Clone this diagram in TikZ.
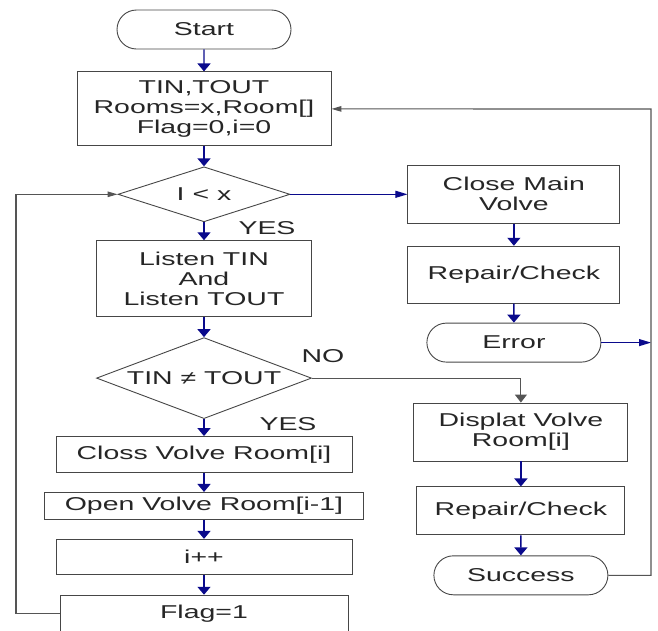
\documentclass[tikz,border=0pt]{standalone}
\usepackage{fontspec}
\newfontfamily\flowfont{Liberation Sans}[FakeStretch=1.53]
\usetikzlibrary{arrows.meta,positioning,shapes.geometric,shapes.misc}
\definecolor{flowblue}{RGB}{10,10,140}
\definecolor{flowgray}{RGB}{85,85,85}
\definecolor{boxgray}{RGB}{70,70,70}

\begin{document}
\begin{tikzpicture}[x=1pt, y=-1pt,
  font=\flowfont\fontsize{18.6}{20}\selectfont, node distance=19pt,
  box/.style={draw=boxgray, line width=0.9pt, align=center, inner sep=0pt,
              text=black!85},
  term/.style={box, rounded rectangle, minimum width=174pt, minimum height=39pt},
  dec/.style={box, diamond},
  varr/.style={-{Triangle[length=8pt,width=13pt]}, line width=1.4pt, flowblue},
  harr/.style={-{Triangle[length=12pt,width=7pt]}, line width=1pt, flowblue},
  garr/.style={-{Triangle[length=10pt,width=5.5pt]}, line width=1.1pt, flowgray},
  gvarr/.style={-{Triangle[length=8pt,width=12pt]}, line width=1.1pt, flowgray},
  lbl/.style={inner sep=0pt, text=black!85},
]
\useasboundingbox (0,0) rectangle (658,630);
% ---------------- main column -----------------
\node[term] (start) at (204,29.5) {Start};
\node[box, below=22pt of start, minimum width=254pt, minimum height=74pt] (init)
  {TIN,TOUT\\Rooms=x,Room[]\\Flag=0,i=0};
\node[dec, below=20pt of init, aspect=3.1, minimum width=172pt, minimum height=55pt] (cnd1)
  {I < x};
\node[box, below=18pt of cnd1, minimum width=215pt, minimum height=76pt] (listen)
  {Listen TIN\\And\\Listen TOUT};
\node[dec, below=20pt of listen, aspect=2.65, minimum width=215pt, minimum height=81pt] (cnd2)
  {TIN ≠ TOUT};
\node[box, below=17pt of cnd2, minimum width=296pt, minimum height=36pt] (closs)
  {Closs Volve Room[i]};
\node[box, below=of closs, minimum width=319pt, minimum height=27pt] (open)
  {Open Volve Room[i-1]};
\node[box, below=of open, minimum width=296pt, minimum height=35pt] (incr) {i++};
\node[box, below=20pt of incr, minimum width=288pt, minimum height=36pt] (flag) {Flag=1};
% ---------------- right column -----------------
\node[box, right=117pt of cnd1, minimum width=212pt, minimum height=58pt] (mainv)
  {Close Main\\Volve};
\node[box, below=22pt of mainv, minimum width=212pt, minimum height=57pt] (rep1)
  {Repair/Check};
\node[term, below=19pt of rep1] (err) {Error};
\node[box, below=40pt of err, xshift=7pt, minimum width=214pt, minimum height=58pt] (disp)
  {Displat Volve\\Room[i]};
\node[box, below=25pt of disp, minimum width=208pt, minimum height=48pt] (rep2)
  {Repair/Check};
\node[term, below=20pt of rep2] (succ) {Success};
% labels
\node[lbl] (yes1) at (267,228) {YES};
\node[lbl] (yes2) at (288,424) {YES};
\node[lbl] (no) at (323,356) {NO};
% return lines
\coordinate (rtop) at (651,109);
\coordinate (lcol) at (16,615);
% ---------------- connectors -----------------
\draw[varr] (start) -- (init);
\draw[varr] (init) -- (cnd1);
\draw[varr] (cnd1) -- (listen);
\draw[varr] (listen) -- (cnd2);
\draw[varr] (cnd2) -- (closs);
\draw[varr] (closs) -- (open);
\draw[varr] (open) -- (incr);
\draw[varr] (incr) -- (flag);
\draw[varr] (mainv) -- (rep1);
\draw[varr] (rep1) -- (err);
\draw[varr] (disp) -- (rep2);
\draw[varr] (rep2) -- (succ);
\draw[harr] (cnd1) -- (mainv);
\draw[harr] (err.east) -- (err.east -| rtop);
\draw[gvarr] (cnd2.east) -| (disp.north);
\draw[garr] (succ.east) -| (rtop) -- (init.east);
\draw[garr] (flag.west) -- (flag.west -| lcol) |- (cnd1.west);
\end{tikzpicture}
\end{document}
